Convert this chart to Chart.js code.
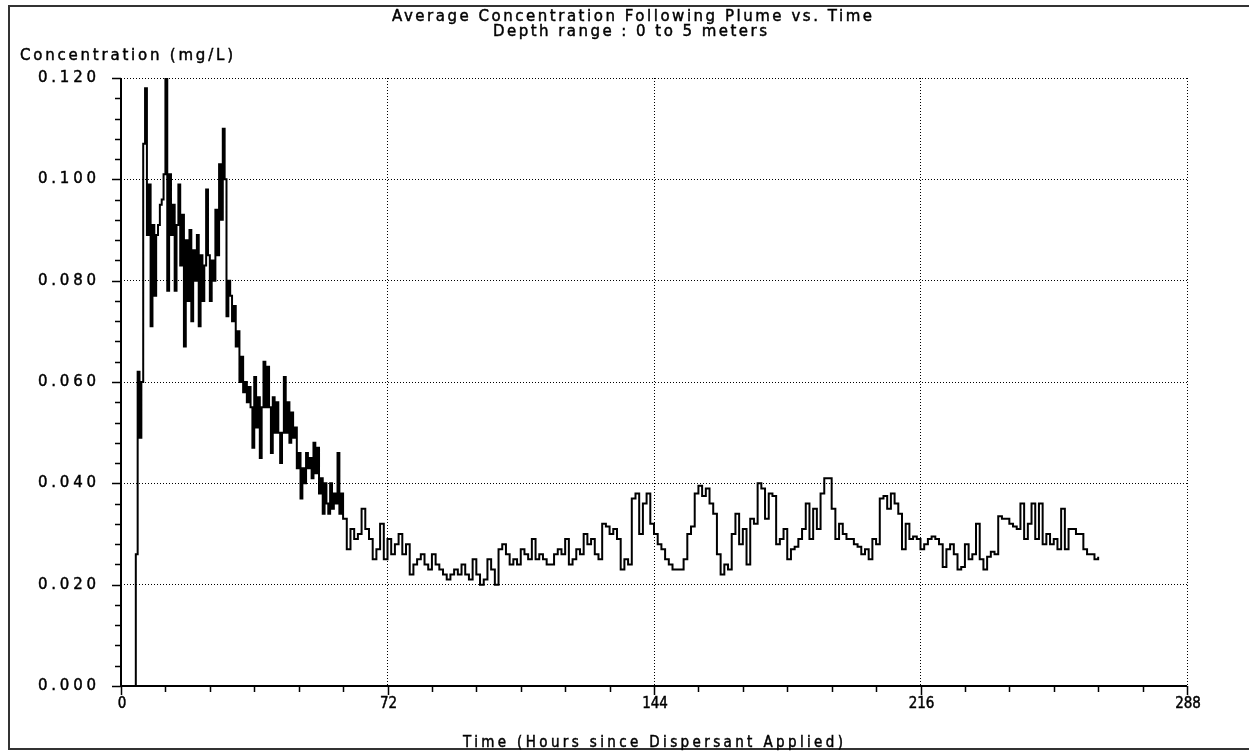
<!DOCTYPE html>
<html>
<head>
<meta charset="utf-8">
<title>Average Concentration Following Plume vs. Time</title>
<script src="https://cdn.jsdelivr.net/npm/chart.js@4.4.1/dist/chart.umd.min.js"></script>
<style>
  body { margin: 0; background: #fff; }
  #wrap { width: 1249px; height: 752px; position: relative; }
</style>
</head>
<body>
<div id="wrap"><canvas id="chart" width="1249" height="752"></canvas></div>
<script>
// hours since dispersant applied, two sampling rates
const earlyStart = 3.5;   // first sample, hours
const earlyStep = 0.5;    // hours between samples
const earlyValues = [
  0.000, 0.026, 0.062, 0.049, 0.060, 0.107, 0.118, 0.089, 0.099, 0.071,
  0.091, 0.077, 0.089, 0.091, 0.095, 0.096, 0.101, 0.120, 0.078, 0.101,
  0.089, 0.095, 0.078, 0.091, 0.099, 0.083, 0.093, 0.067, 0.088, 0.076,
  0.090, 0.072, 0.086, 0.080, 0.089, 0.071, 0.085, 0.076, 0.083, 0.098,
  0.085, 0.076, 0.084, 0.080, 0.094, 0.085, 0.103, 0.092, 0.110, 0.100,
  0.073, 0.080, 0.077, 0.072, 0.075, 0.067, 0.070, 0.060, 0.065, 0.058,
  0.060, 0.056, 0.059, 0.055, 0.047, 0.061, 0.051, 0.057, 0.045, 0.055,
  0.064, 0.055, 0.063, 0.055, 0.046, 0.057, 0.050, 0.056, 0.050, 0.044,
  0.050, 0.061, 0.050, 0.056, 0.048, 0.054, 0.049, 0.051, 0.043, 0.046,
  0.037, 0.043, 0.040, 0.046, 0.043, 0.045, 0.041, 0.048, 0.042, 0.047,
  0.038, 0.041, 0.034, 0.040, 0.036, 0.034, 0.040, 0.035, 0.038, 0.036,
  0.046, 0.034, 0.038
];
const lateStart = 60;
const lateStep = 1;
const lateValues = [
  0.033, 0.027, 0.031, 0.029, 0.030, 0.035, 0.031, 0.029, 0.025, 0.027,
  0.032, 0.025, 0.029, 0.026, 0.028, 0.030, 0.026, 0.028, 0.022, 0.024,
  0.025, 0.026, 0.024, 0.023, 0.026, 0.024, 0.023, 0.022, 0.021, 0.022,
  0.023, 0.022, 0.024, 0.022, 0.021, 0.025, 0.022, 0.020, 0.021, 0.025,
  0.023, 0.020, 0.027, 0.028, 0.026, 0.024, 0.025, 0.024, 0.027, 0.026,
  0.025, 0.029, 0.025, 0.026, 0.025, 0.024, 0.024, 0.026, 0.027, 0.026,
  0.029, 0.024, 0.025, 0.027, 0.026, 0.030, 0.028, 0.029, 0.026, 0.025,
  0.032, 0.0315, 0.030, 0.031, 0.029, 0.023, 0.025, 0.024, 0.037, 0.038,
  0.030, 0.036, 0.038, 0.032, 0.030, 0.028, 0.027, 0.025, 0.024, 0.023,
  0.023, 0.023, 0.025, 0.030, 0.0315, 0.038, 0.0395, 0.0375, 0.039, 0.036,
  0.034, 0.026, 0.022, 0.024, 0.023, 0.030, 0.034, 0.028, 0.031, 0.024,
  0.033, 0.032, 0.040, 0.039, 0.033, 0.038, 0.0375, 0.028, 0.029, 0.031,
  0.025, 0.027, 0.0275, 0.029, 0.031, 0.036, 0.029, 0.035, 0.031, 0.038,
  0.041, 0.041, 0.035, 0.029, 0.032, 0.030, 0.029, 0.029, 0.028, 0.0275,
  0.026, 0.027, 0.025, 0.029, 0.028, 0.037, 0.0375, 0.035, 0.038, 0.036,
  0.034, 0.027, 0.032, 0.029, 0.0295, 0.029, 0.027, 0.028, 0.029, 0.0295,
  0.029, 0.028, 0.0235, 0.027, 0.028, 0.026, 0.023, 0.0235, 0.028, 0.025,
  0.026, 0.032, 0.025, 0.023, 0.0255, 0.0265, 0.026, 0.0335, 0.033, 0.033,
  0.032, 0.0315, 0.031, 0.036, 0.029, 0.032, 0.036, 0.029, 0.036, 0.028,
  0.030, 0.028, 0.029, 0.027, 0.035, 0.027, 0.031, 0.031, 0.030, 0.030,
  0.027, 0.026, 0.026, 0.025, 0.0255
];

const xTicks = [0, 72, 144, 216, 288];
const yTicks = [0, 0.02, 0.04, 0.06, 0.08, 0.1, 0.12];

const points = earlyValues.map((v, i) => ({ x: earlyStart + i * earlyStep, y: v }))
  .concat(lateValues.map((v, i) => ({ x: lateStart + i * lateStep, y: v })));

const FONT = '15px "DejaVu Sans"';
const NARROW = '15px "DejaVu Sans Condensed"';

// stretch a label to the width it has in the old printout
function fitText(ctx, text, x, y, width, align) {
  ctx.letterSpacing = "0px";
  const w = ctx.measureText(text).width;
  const sp = text.length > 1 ? (width - w) / (text.length - 1) : 0;
  ctx.letterSpacing = sp + "px";
  let x0 = x;
  if (align === "center") x0 = x - width / 2;
  if (align === "right") x0 = x - width;
  ctx.textAlign = "left";
  ctx.fillText(text, x0, y);
  ctx.strokeText(text, x0, y);
}

// axes, ticks, labels and frame drawn like the old plotting program
const oldPlot = {
  id: "oldPlot",
  afterDraw(chart) {
    const ctx = chart.ctx;
    const x = chart.scales.x;
    const y = chart.scales.y;
    const left = x.getPixelForValue(0);
    const bottom = y.getPixelForValue(0);
    ctx.save();
    ctx.fillStyle = "#000";

    // outer frame
    ctx.lineWidth = 2;
    ctx.strokeStyle = "#333";
    ctx.strokeRect(9, 6, 1250, 743);
    ctx.strokeStyle = "#000";

    // axis lines
    ctx.lineWidth = 2;
    ctx.beginPath();
    ctx.moveTo(left, y.getPixelForValue(0.12));
    ctx.lineTo(left, bottom);
    ctx.lineTo(x.getPixelForValue(288), bottom);
    ctx.stroke();

    // minor + major ticks
    ctx.lineWidth = 1.5;
    ctx.beginPath();
    for (let i = 0; i <= 30; i++) {
      const py = Math.round(y.getPixelForValue(i * 0.004)) + 0.5;
      const len = i % 5 === 0 ? 9 : 6;
      ctx.moveTo(left - len, py);
      ctx.lineTo(left, py);
    }
    for (let i = 0; i <= 24; i++) {
      const px = Math.round(x.getPixelForValue(i * 12)) + 0.5;
      const len = i % 6 === 0 ? 9 : 6;
      ctx.moveTo(px, bottom);
      ctx.lineTo(px, bottom + len);
    }
    ctx.stroke();

    ctx.font = FONT;
    ctx.textBaseline = "middle";
    ctx.lineWidth = 0.45;

    // y tick labels
    yTicks.forEach(v => {
      fitText(ctx, v.toFixed(3), left - 25, y.getPixelForValue(v), 58, "right");
    });

    // titles
    fitText(ctx, "Average Concentration Following Plume vs. Time", 632, 17, 480, "center");
    fitText(ctx, "Depth range : 0 to 5 meters", 630, 32, 274, "center");
    fitText(ctx, "Concentration (mg/L)", 20, 56, 213, "left");

    // x tick labels and axis title in the narrow face
    ctx.font = NARROW;
    xTicks.forEach(v => {
      const s = String(v);
      fitText(ctx, s, x.getPixelForValue(v) + 1, bottom + 18, s.length * 8.5, "center");
    });
    fitText(ctx, "Time (Hours since Dispersant Applied)", 653, 743, 380, "center");
    ctx.restore();
  }
};

new Chart(document.getElementById("chart"), {
  type: "line",
  data: {
    datasets: [{
      data: points,
      borderColor: "#000",
      borderWidth: 2,
      stepped: true,
      pointRadius: 0,
      fill: false
    }]
  },
  options: {
    responsive: false,
    animation: false,
    layout: { padding: { left: 121, right: 62, top: 78, bottom: 66 } },
    plugins: { legend: { display: false }, tooltip: { enabled: false } },
    scales: {
      x: {
        type: "linear",
        min: 0,
        max: 288,
        afterBuildTicks: s => { s.ticks = xTicks.map(v => ({ value: v })); },
        afterFit: s => { s.height = 0; },
        ticks: { display: false },
        grid: { color: "#000", lineWidth: 1, drawTicks: false },
        border: { display: false, dash: [1, 2] }
      },
      y: {
        min: 0,
        max: 0.12,
        afterBuildTicks: s => { s.ticks = yTicks.map(v => ({ value: v })); },
        afterFit: s => { s.width = 0; },
        ticks: { display: false },
        grid: { color: "#000", lineWidth: 1, drawTicks: false },
        border: { display: false, dash: [1, 2] }
      }
    }
  },
  plugins: [oldPlot]
});
</script>
</body>
</html>
